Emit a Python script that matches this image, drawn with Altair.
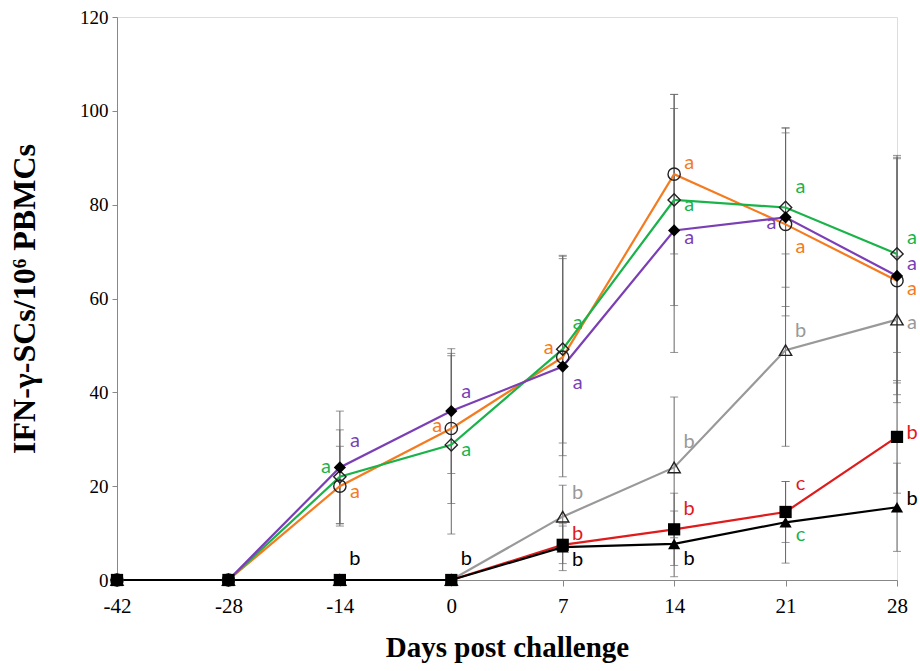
import altair as alt
import pandas as pd

days = ["-42", "-28", "-14", "0", "7", "14", "21", "28"]
groups = ["G1", "G2", "G3", "G4", "G5", "G6"]
line_colors = ["#F47B20", "#1AB34A", "#7B3FB5", "#999999", "#E01B1B", "#000000"]
shapes = ["circle", "diamond", "diamond", "triangle-up", "square", "triangle-up"]
sizes = [150, 150, 150, 150, 140, 140]
open_groups = ["G1", "G2", "G4"]
filled_groups = ["G3", "G5", "G6"]

g1_mean = [0, 0, 20.0, 32.3, 47.5, 86.5, 75.8, 63.8]
g2_mean = [0, 0, 22.0, 28.8, 49.2, 81.0, 79.4, 69.5]
g3_mean = [0, 0, 24.0, 36.0, 45.5, 74.5, 77.3, 64.8]
g4_mean = [0, 0, 0, 0, 13.5, 24.0, 49.0, 55.5]
g5_mean = [0, 0, 0, 0, 7.5, 10.8, 14.5, 30.5]
g6_mean = [0, 0, 0, 0, 7.0, 7.7, 12.3, 15.5]

g1_sd = [0, 0, 8.5, 16.0, 21.0, 17.0, 19.5, 26.0]
g2_sd = [0, 0, 10.0, 19.0, 20.0, 22.5, 17.0, 21.0]
g3_sd = [0, 0, 12.0, 13.3, 23.5, 26.0, 19.0, 25.3]
g4_sd = [0, 0, 0, 0, 6.7, 15.0, 20.5, 13.5]
g5_sd = [0, 0, 0, 0, 4.0, 7.7, 6.5, 12.0]
g6_sd = [0, 0, 0, 0, 5.0, 7.0, 8.7, 9.4]

letter_day = ["-14", "-14", "-14", "-14",
              "0", "0", "0", "0",
              "7", "7", "7", "7", "7", "7",
              "14", "14", "14", "14", "14", "14",
              "21", "21", "21", "21", "21", "21",
              "28", "28", "28", "28", "28", "28"]
letter_y = [29.6, 24.1, 18.7, 4.4,
            40.1, 32.8, 27.7, 4.4,
            54.8, 49.5, 42.0, 18.6, 9.8, 4.3,
            88.9, 80.0, 72.9, 29.4, 15.1, 4.5,
            83.8, 76.1, 71.0, 53.1, 20.5, 9.6,
            72.9, 67.4, 62.0, 54.8, 31.3, 17.3]
letter_text = ["a", "a", "a", "b",
               "a", "a", "a", "b",
               "a", "a", "a", "b", "b", "b",
               "a", "a", "a", "b", "b", "b",
               "a", "a", "a", "b", "c", "c",
               "a", "a", "a", "a", "b", "b"]
letter_group = ["G3", "G2", "G1", "G6",
                "G3", "G1", "G2", "G6",
                "G2", "G1", "G3", "G4", "G5", "G6",
                "G1", "G2", "G3", "G4", "G5", "G6",
                "G2", "G3", "G1", "G4", "G5", "G2",
                "G2", "G3", "G1", "G4", "G5", "G6"]
letter_side = ["R", "L", "R", "R",
               "R", "L", "R", "R",
               "R", "L", "R", "R", "R", "R",
               "R", "R", "R", "R", "R", "R",
               "R", "L", "R", "R", "R", "R",
               "R", "R", "R", "R", "R", "R"]

means = [g1_mean, g2_mean, g3_mean, g4_mean, g5_mean, g6_mean]
sds = [g1_sd, g2_sd, g3_sd, g4_sd, g5_sd, g6_sd]
rows = []
for g, m, s in zip(groups, means, sds):
    for d, mv, sv in zip(days, m, s):
        rows.append({"day": d, "group": g, "mean": mv, "lo": mv - sv, "hi": mv + sv, "sd": sv})
df = pd.DataFrame(rows)
err_df = df[df["sd"] > 0]

letters = pd.DataFrame({"day": letter_day, "ly": letter_y, "label": letter_text,
                        "group": letter_group, "side": letter_side})

x_enc = alt.X("day:O", sort=days, scale=alt.Scale(type="point", padding=0),
              axis=alt.Axis(title="Days post challenge", labelAngle=0,
                            labelFont="Liberation Serif", labelFontSize=21, labelColor="black",
                            titleFont="Liberation Serif", titleFontSize=29, titleFontWeight="bold",
                            titleColor="black", domainColor="#888", tickColor="#888",
                            tickSize=6, labelPadding=9, titlePadding=17, grid=False))
y_scale = alt.Scale(domain=[0, 120], nice=False)
y_axis = alt.Axis(title="IFN-γ-SCs/10⁶ PBMCs", values=[0, 20, 40, 60, 80, 100, 120],
                  labelFont="Liberation Serif", labelFontSize=19, labelColor="black",
                  titleFont="Liberation Serif", titleFontSize=32, titleFontWeight="bold",
                  titleColor="black", domainColor="#888", tickColor="#888", tickSize=5,
                  labelPadding=4, titlePadding=38, grid=False)
color_scale = alt.Scale(domain=groups, range=line_colors)
shape_scale = alt.Scale(domain=groups, range=shapes)
size_scale = alt.Scale(domain=groups, range=sizes)

base = alt.Chart(df)

err_rule = alt.Chart(err_df).mark_rule(color="#666", strokeWidth=1).encode(
    x=x_enc, y=alt.Y("lo:Q", scale=y_scale, axis=y_axis), y2="hi:Q")
err_lo = alt.Chart(err_df).mark_tick(color="#666", thickness=1, size=8).encode(
    x=x_enc, y=alt.Y("lo:Q", scale=y_scale))
err_hi = alt.Chart(err_df).mark_tick(color="#666", thickness=1, size=8).encode(
    x=x_enc, y=alt.Y("hi:Q", scale=y_scale))

lines = base.mark_line(strokeWidth=2.2).encode(
    x=x_enc, y=alt.Y("mean:Q", scale=y_scale, axis=y_axis),
    color=alt.Color("group:N", scale=color_scale, legend=None),
    order=alt.Order("group:N", sort="ascending"))

open_pts = base.transform_filter(
    alt.FieldOneOfPredicate(field="group", oneOf=open_groups)
).mark_point(filled=False, color="#222", strokeWidth=1.4, opacity=1).encode(
    x=x_enc, y=alt.Y("mean:Q", scale=y_scale),
    shape=alt.Shape("group:N", scale=shape_scale, legend=None),
    size=alt.Size("group:N", scale=size_scale, legend=None))

filled_pts = base.transform_filter(
    alt.FieldOneOfPredicate(field="group", oneOf=filled_groups)
).mark_point(filled=True, color="black", opacity=1).encode(
    x=x_enc, y=alt.Y("mean:Q", scale=y_scale),
    shape=alt.Shape("group:N", scale=shape_scale, legend=None),
    size=alt.Size("group:N", scale=size_scale, legend=None))

letters_base = alt.Chart(letters)
text_r = letters_base.transform_filter(alt.datum.side == "R").mark_text(
    font="Lato", fontSize=20, dx=15, align="center", baseline="middle").encode(
    x=x_enc, y=alt.Y("ly:Q", scale=y_scale), text="label:N",
    color=alt.Color("group:N", scale=color_scale, legend=None))
text_l = letters_base.transform_filter(alt.datum.side == "L").mark_text(
    font="Lato", fontSize=20, dx=-14, align="center", baseline="middle").encode(
    x=x_enc, y=alt.Y("ly:Q", scale=y_scale), text="label:N",
    color=alt.Color("group:N", scale=color_scale, legend=None))

chart = alt.layer(err_rule, err_lo, err_hi, lines, open_pts, filled_pts, text_r, text_l).properties(
    width=780, height=563,
    autosize=alt.AutoSizeParams(type="none"),
    padding={"left": 117, "top": 17, "right": 23, "bottom": 91},
).configure_view(stroke=None).configure(background="white")

chart.save("out.html", embed_options={"renderer": "svg", "actions": False})
